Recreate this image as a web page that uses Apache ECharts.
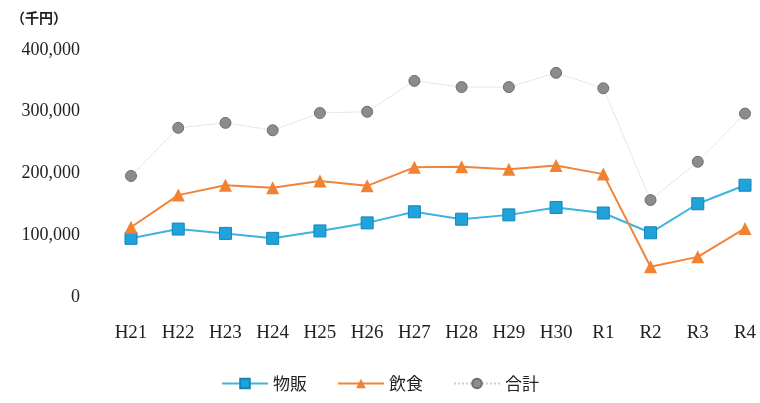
<!DOCTYPE html>
<html>
<head>
<meta charset="utf-8">
<script src="https://cdn.jsdelivr.net/npm/echarts@6/dist/echarts.min.js"></script>
<style>
html, body { margin: 0; padding: 0; background: #fff; }
#main { width: 760px; height: 403px; }
</style>
</head>
<body>
<div id="main"></div>
<script>
var years = ['H21', 'H22', 'H23', 'H24', 'H25', 'H26', 'H27', 'H28', 'H29', 'H30', 'R1', 'R2', 'R3', 'R4'];
var buppan = [95000, 110000, 103000, 95000, 107000, 120000, 138000, 126000, 133000, 145000, 136000, 104000, 151000, 181000];
var inshoku = [113000, 165000, 181000, 177000, 188000, 180000, 210000, 211000, 207000, 213000, 199000, 49000, 65000, 111000];
var goukei = [196000, 274000, 282000, 270000, 298000, 300000, 350000, 340000, 340000, 363000, 338000, 157000, 219000, 297000];

var labelFont = 'Liberation Serif';

var dom = document.getElementById('main');
var myChart = echarts.init(dom);

var option = {
    backgroundColor: '#ffffff',
    animation: false,
    title: {
        text: '（千円）',
        left: 6,
        top: 6,
        textStyle: { fontSize: 14, fontWeight: 'bold', color: '#222', fontFamily: 'Noto Sans CJK JP' }
    },
    legend: {
        bottom: 6,
        left: 'center',
        itemWidth: 46,
        itemHeight: 12,
        itemGap: 30,
        textStyle: { fontSize: 17, color: '#222', fontFamily: 'Noto Sans CJK JP' },
        data: ['物販', '飲食', '合計']
    },
    grid: {
        left: 131,
        right: 15,
        top: 50,
        bottom: 106
    },
    xAxis: {
        type: 'category',
        boundaryGap: false,
        data: years,
        axisLine: { show: false },
        axisTick: { show: false },
        axisLabel: {
            margin: 27,
            fontSize: 19,
            color: '#222',
            fontFamily: labelFont
        }
    },
    yAxis: {
        type: 'value',
        min: 0,
        max: 400000,
        interval: 100000,
        splitLine: { show: false },
        axisLine: { show: false },
        axisTick: { show: false },
        axisLabel: {
            margin: 51,
            fontSize: 18,
            color: '#222',
            fontFamily: labelFont,
            formatter: function (v) { return v.toLocaleString('en-US'); }
        }
    },
    series: [
        {
            name: '合計',
            type: 'line',
            data: goukei,
            symbol: 'circle',
            symbolSize: 11,
            itemStyle: { color: '#8c8c8c', borderColor: '#6e6e6e', borderWidth: 1 },
            lineStyle: { color: '#cfcfcf', width: 1, type: 'dotted' },
            z: 1
        },
        {
            name: '飲食',
            type: 'line',
            data: inshoku,
            symbol: 'triangle',
            symbolSize: 13,
            itemStyle: { color: '#f08232' },
            lineStyle: { color: '#f0843a', width: 2 },
            z: 3
        },
        {
            name: '物販',
            type: 'line',
            data: buppan,
            symbol: 'rect',
            symbolSize: 12,
            itemStyle: { color: '#1fa3da', borderColor: '#1585b8', borderWidth: 1 },
            lineStyle: { color: '#3db4e0', width: 2 },
            z: 2
        }
    ]
};

myChart.setOption(option);
</script>
</body>
</html>
